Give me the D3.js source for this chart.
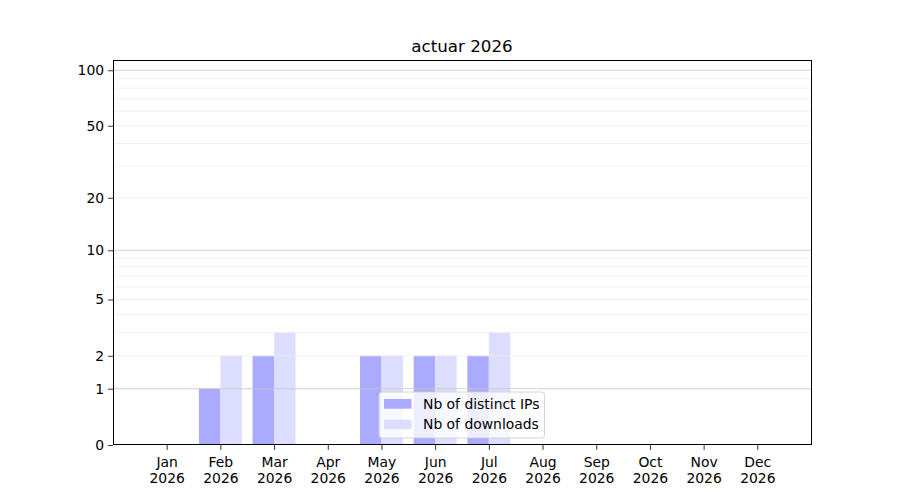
<!DOCTYPE html>
<html><head><meta charset="utf-8">
<script src="https://cdn.jsdelivr.net/npm/d3@7"></script>
<style>body{margin:0;background:#fff} text{font-family:"DejaVu Sans",sans-serif;fill:#000}</style>
</head><body>
<svg id="c" width="900" height="500"></svg>
<script>
const titleText = "actuar 2026";
const months = ["Jan","Feb","Mar","Apr","May","Jun","Jul","Aug","Sep","Oct","Nov","Dec"];
const year = "2026";
const distinctIPs = [0,1,2,0,2,2,2,0,0,0,0,0];
const downloads   = [0,2,3,0,2,2,3,0,0,0,0,0];
const yTicks = [0,1,2,5,10,20,50,100];
const majorGrid = [1,10,100];
const minorGrid = [2,3,4,5,6,7,8,9,20,30,40,50,60,70,80,90];
const seriesNames = ["Nb of distinct IPs","Nb of downloads"];
const seriesColors = ["#aaaaff","#ddddff"];

const L=113, R=811, T=60, B=445;
const svg = d3.select("#c");
const x = d3.scaleLinear().domain([-1, 12]).range([L, R]);
const y = d3.scaleSymlog().constant(1).domain([0, 113.6]).range([B, T]);
const bw = 0.4;

// bars
const g = svg.append("g");
[distinctIPs, downloads].forEach((arr, s) => {
  g.selectAll(null).data(arr.map((v,i)=>({v,i}))).enter().append("rect")
    .attr("x", d => x(d.i + (s===0 ? -bw : 0)))
    .attr("width", x(bw) - x(0))
    .attr("y", d => y(d.v))
    .attr("height", d => y(0) - y(d.v))
    .attr("fill", seriesColors[s]);
});

// grid
svg.append("g").selectAll("line").data(minorGrid).enter().append("line")
  .attr("x1", L).attr("x2", R).attr("y1", d=>y(d)).attr("y2", d=>y(d))
  .attr("stroke", "#ececec").attr("stroke-width", 0.8);
svg.append("g").selectAll("line").data(majorGrid).enter().append("line")
  .attr("x1", L).attr("x2", R).attr("y1", d=>y(d)).attr("y2", d=>y(d))
  .attr("stroke", "#c8c8c8").attr("stroke-width", 0.8);

// y axis
const yAxis = d3.axisLeft(y).tickValues(yTicks).tickFormat(d3.format("d")).tickSize(4.9).tickPadding(4);
const ya = svg.append("g").attr("transform", `translate(${L},0)`).call(yAxis);
ya.select(".domain").remove();
ya.selectAll("text").style("font-size","13.9px").attr("font-family","DejaVu Sans");
ya.selectAll("line").attr("stroke","#000").attr("stroke-width",0.8);

// x axis
const xAxis = d3.axisBottom(x).tickValues(d3.range(months.length)).tickFormat(()=> "").tickSize(4.9);
const xa = svg.append("g").attr("transform", `translate(0,${B})`).call(xAxis);
xa.select(".domain").remove();
xa.selectAll("line").attr("stroke","#000").attr("stroke-width",0.8);
xa.selectAll(".tick").each(function(d){
  const t = d3.select(this).append("text").attr("text-anchor","middle").style("font-size","13.9px").attr("fill","#000");
  t.append("tspan").attr("x",0).attr("y",21.5).text(months[d]);
  t.append("tspan").attr("x",0).attr("y",37.5).text(year);
});

// frame (crisp)
const fr = svg.append("g").attr("stroke","#000").attr("stroke-width",1).attr("shape-rendering","crispEdges");
fr.append("line").attr("x1",L).attr("x2",L).attr("y1",T).attr("y2",B);
fr.append("line").attr("x1",R).attr("x2",R).attr("y1",T).attr("y2",B);
fr.append("line").attr("x1",L).attr("x2",R+1).attr("y1",T).attr("y2",T);
fr.append("line").attr("x1",L).attr("x2",R+1).attr("y1",B-0.5).attr("y2",B-0.5);

// title
svg.append("text").attr("x",(L+R)/2).attr("y",52).attr("text-anchor","middle")
  .style("font-size","16.7px").text(titleText);

// legend
const lg = svg.append("g");
lg.append("rect").attr("x",379).attr("y",392).attr("width",165.5).attr("height",46)
  .attr("rx",3).attr("fill","#fff").attr("fill-opacity",0.8).attr("stroke","#cccccc").attr("stroke-width",0.8);
seriesNames.forEach((n,i)=>{
  const cy = 404 + i*20.5;
  lg.append("rect").attr("x",384).attr("y",cy-5).attr("width",27.5).attr("height",9.7).attr("fill",seriesColors[i]);
  lg.append("text").attr("x",423).attr("y",cy+4.8).style("font-size","13.9px").text(n);
});
</script>
</body></html>
